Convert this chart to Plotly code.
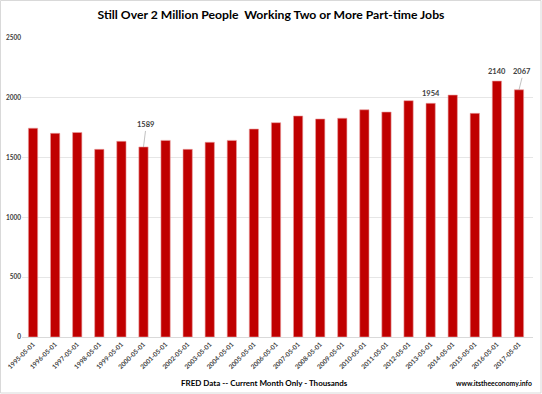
import plotly.graph_objects as go

dates = ["1995-05-01", "1996-05-01", "1997-05-01", "1998-05-01", "1999-05-01",
         "2000-05-01", "2001-05-01", "2002-05-01", "2003-05-01", "2004-05-01",
         "2005-05-01", "2006-05-01", "2007-05-01", "2008-05-01", "2009-05-01",
         "2010-05-01", "2011-05-01", "2012-05-01", "2013-05-01", "2014-05-01",
         "2015-05-01", "2016-05-01", "2017-05-01"]
values = [1746, 1703, 1710, 1569, 1636,
          1589, 1644, 1569, 1628, 1644,
          1739, 1792, 1848, 1823, 1829,
          1900, 1881, 1976, 1954, 2023,
          1870, 2140, 2067]
y_ticks = [0, 500, 1000, 1500, 2000, 2500]

# labelled points: (dx, dy in px, show leader)
labelled = {"2000-05-01": (2, -16, True), "2013-05-01": (0, -7, False),
            "2016-05-01": (0, -6, False), "2017-05-01": (3, -12, True)}

FONT = "Lato"
fig = go.Figure()
fig.add_trace(go.Bar(x=dates, y=values, marker=dict(color="#c00000",
                     line=dict(color="#e9a0a0", width=0.6)), width=0.42,
                     cliponaxis=False, hoverinfo="skip"))

for d, v in zip(dates, values):
    if d in labelled:
        dx, dy, lead = labelled[d]
        if lead:
            fig.add_annotation(x=d, y=v, ax=dx, ay=dy, showarrow=True, arrowhead=0,
                               arrowwidth=0.7, arrowcolor="#a6a6a6", text=str(v),
                               yanchor="bottom", standoff=0,
                               font=dict(family=FONT, size=7.5, color="#404040", weight="bold"))
        else:
            fig.add_annotation(x=d, y=v, showarrow=False, text=str(v), yanchor="bottom",
                               yshift=3,
                               font=dict(family=FONT, size=7.5, color="#404040", weight="bold"))

fig.add_annotation(xref="paper", yref="paper", x=(264.5 - 22) / 511, y=-46/299, yanchor="middle",
                   showarrow=False, xanchor="center",
                   text="FRED Data -- Current Month Only - Thousands",
                   font=dict(family=FONT, size=8, color="#000000", weight="bold"))
fig.add_annotation(xref="paper", yref="paper", x=1 + 1/511, y=-46/299, yanchor="middle",
                   showarrow=False, xanchor="right",
                   text="www.itstheeconomy.info",
                   font=dict(family=FONT, size=6.8, color="#000000", weight="bold"))

fig.add_shape(type="rect", xref="paper", yref="paper", x0=-21.5/511, x1=1 + 8/511,
              y0=-56/299, y1=1 + 37.5/299, line=dict(color="#d9d9d9", width=1))

fig.update_layout(
    width=542, height=394,
    margin=dict(l=22, r=9, t=38, b=57, autoexpand=False),
    paper_bgcolor="white", plot_bgcolor="white",
    title=dict(text="Still Over 2 Million People  Working Two or More Part-time Jobs",
               x=271/542, xanchor="center", y=1 - 15/394, yanchor="middle",
               font=dict(family=FONT, size=12.2, color="#000000", weight="bold")),
    showlegend=False,
    bargap=0.58,
    xaxis=dict(type="category", tickangle=-45, showgrid=False, ticks="", automargin=False,
               tickfont=dict(family=FONT, size=6.5, color="#404040", weight="bold"),
               showline=True, linecolor="#d9d9d9", linewidth=1),
    yaxis=dict(range=[0, 2500], tickvals=y_ticks, showgrid=True, gridcolor="#e6e6e6",
               gridwidth=1, zeroline=False, ticks="", automargin=False,
               tickfont=dict(family=FONT, size=6.5, color="#404040", weight="bold")),
)

fig.write_html("out.html", config={"displayModeBar": False},
               post_script="document.body.style.margin='0';document.body.style.overflow='hidden';")
